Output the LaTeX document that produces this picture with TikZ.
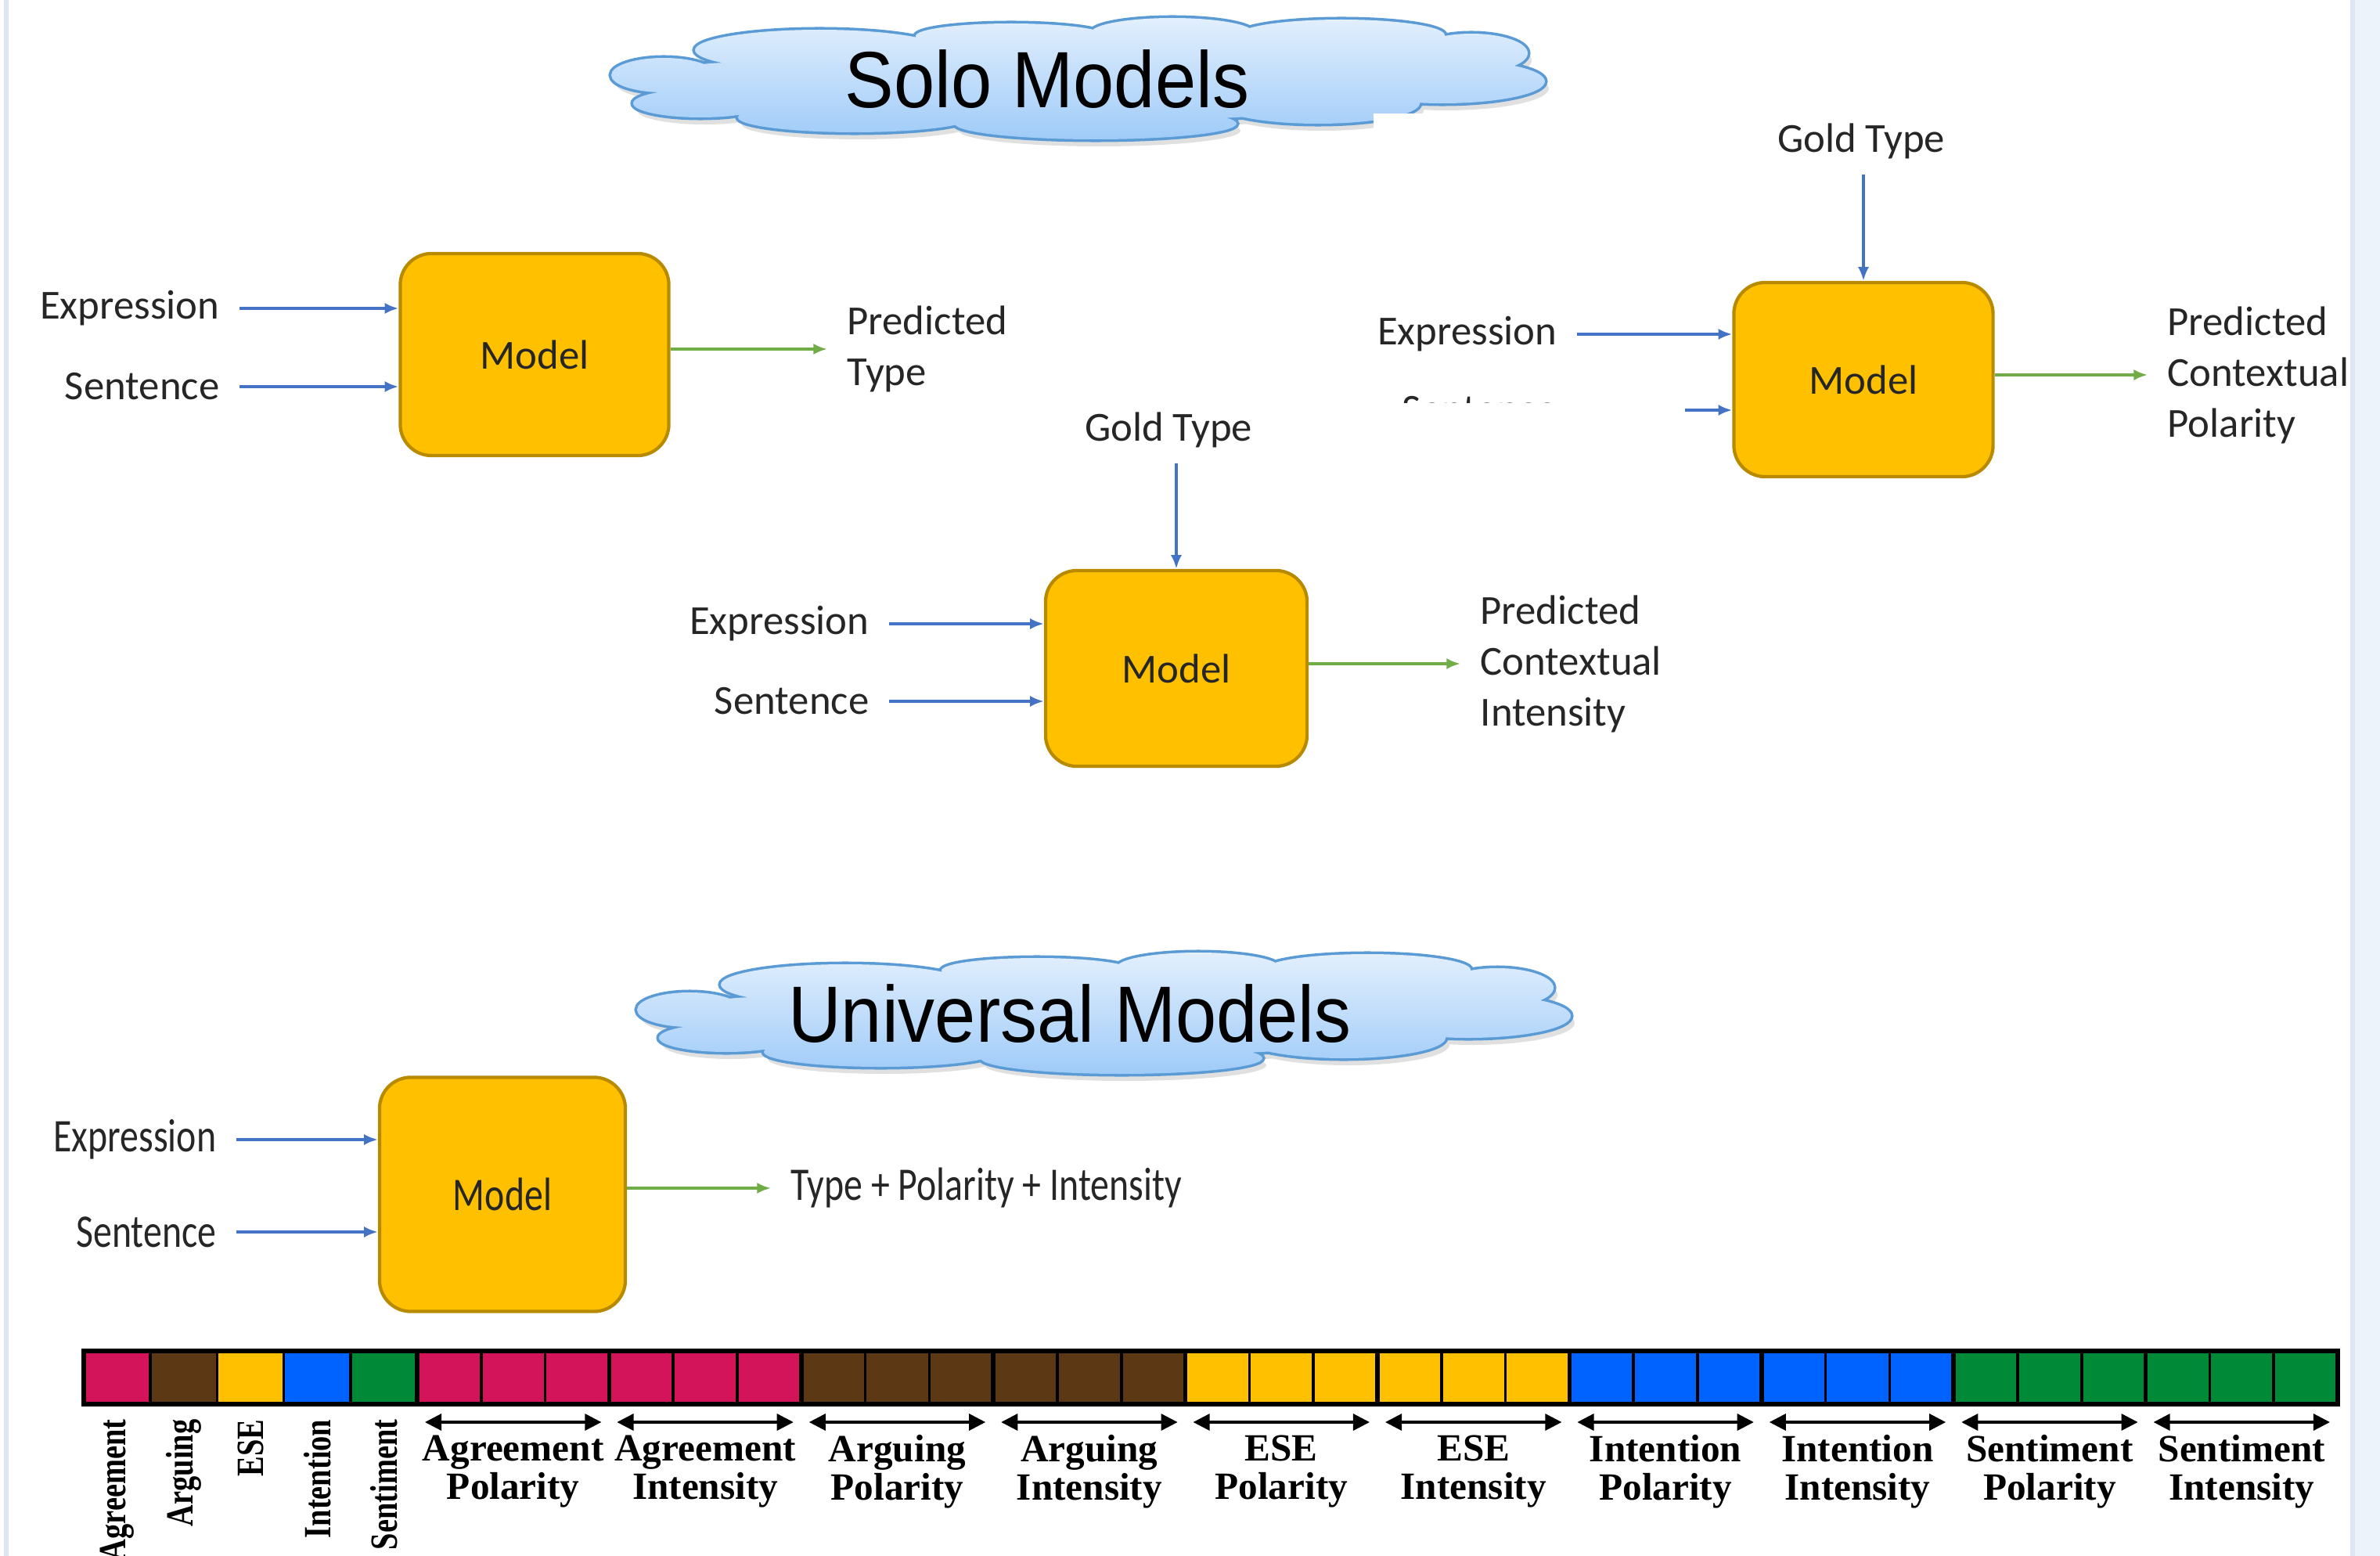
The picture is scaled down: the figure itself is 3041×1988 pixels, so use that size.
\documentclass[tikz,border=0pt]{standalone}
\usepackage{fontspec}
\setmainfont{Carlito}
\newfontfamily\cloudfont{Liberation Sans}
\newfontfamily\barfont{Liberation Serif}
\usetikzlibrary{arrows.meta}

\definecolor{modelfill}{HTML}{FFC000}
\definecolor{modelline}{HTML}{B88A00}
\definecolor{inblue}{HTML}{4472C4}
\definecolor{outgreen}{HTML}{70AD47}
\definecolor{cloudtop}{HTML}{E2EFFD}
\definecolor{cloudbot}{HTML}{9FCBF8}
\definecolor{cloudline}{HTML}{5B9BD5}
\definecolor{textgray}{HTML}{262626}
\definecolor{edgeblue}{HTML}{DCE6F5}
\definecolor{barmag}{HTML}{D4145A}
\definecolor{barbrown}{HTML}{5C3914}
\definecolor{baryel}{HTML}{FFC000}
\definecolor{barblue}{HTML}{0062FF}
\definecolor{bargreen}{HTML}{008936}

\newcommand{\cloudlobes}{%
  (848,96) ellipse [x radius=67, y radius=22]
  (895,132) ellipse [x radius=86, y radius=18]
  (1092,150) ellipse [x radius=149, y radius=19]
  (1400,158) ellipse [x radius=180, y radius=20]
  (1684,132) ellipse [x radius=130, y radius=26]
  (1843,104) ellipse [x radius=131, y radius=28]
  (1880,68) ellipse [x radius=72, y radius=25]
  (1714,45) ellipse [x radius=132, y radius=20]
  (1498,42) ellipse [x radius=104, y radius=19]
  (1292,46) ellipse [x radius=122, y radius=16]
  (1047,64) ellipse [x radius=159, y radius=26]
  (1378,100) ellipse [x radius=480, y radius=55]
  (1790,82) ellipse [x radius=100, y radius=30]
  (935,108) ellipse [x radius=100, y radius=28]
  (990,128) ellipse [x radius=90, y radius=22]}

\tikzset{
  model/.style={draw=modelline, fill=modelfill, line width=1.2pt, rounded corners=0.4cm,
    font=\fontsize{15}{18}\selectfont, text=textgray},
  lbl/.style={font=\fontsize{15}{18.5}\selectfont, inner sep=0pt, text=textgray, align=left},
  inarrow/.style={draw=inblue, line width=1pt, -{Latex[length=5pt,width=4pt]}, shorten <=0.25cm},
  outarrow/.style={draw=outgreen, line width=1pt, -{Latex[length=5pt,width=4pt]}, shorten >=0.25cm},
  cloudshadow/.style={fill=black, opacity=0.12},
  cloudrim/.style={draw=cloudline, line width=2pt},
  cloudbody/.style={top color=cloudtop, bottom color=cloudbot},
  title/.style={font=\cloudfont\fontsize{29}{30}\selectfont, xscale=0.92, inner sep=0pt},
  cell/.style={draw=black, line width=1pt},
  span/.style={draw=black, line width=0.9pt, {Triangle[length=6pt,width=6pt]}-{Triangle[length=6pt,width=6pt]}},
  barlbl/.style={font=\barfont\bfseries\fontsize{14}{14}\selectfont, inner sep=0pt, align=center}
}

\begin{document}
\begin{tikzpicture}[x=0.01cm, y=-0.01cm]
  \useasboundingbox (0,0) rectangle (3041,1988);
  \fill[white] (0,0) rectangle (3041,1988);
  \fill[edgeblue!50] (3006,0) rectangle (3041,1988);
  \draw[edgeblue, line width=1.5pt] (3006,0) -- (3006,1988);
  \draw[edgeblue, line width=1.5pt] (8,0) -- (8,1988);

  % solo: type
  \node[model, minimum width=3.43cm, minimum height=2.58cm] (modelA) at (683,453) {Model};
  \node[lbl, anchor=east] (exprA) at (281,394) {Expression};
  \node[lbl, anchor=east] (sentA) at (281,494) {Sentence};
  \node[lbl, anchor=west] (predA) at (1082,446) {Predicted\\Type};
  \draw[inarrow] (exprA.east) -- (modelA.west |- exprA.east);
  \draw[inarrow] (sentA.east) -- (modelA.west |- sentA.east);
  \draw[outarrow] (modelA.east |- predA.west) -- (predA.west);

  \fill[cloudshadow, shift={(5,9)}] \cloudlobes;
  \draw[cloudrim] \cloudlobes;
  \shade[cloudbody] \cloudlobes;
  \node[title] (soloTitle) at (1338,101) {Solo Models};

  % solo: polarity
  \fill[white] (1755,145) rectangle (3000,615);
  \node[model, minimum width=3.31cm, minimum height=2.48cm] (modelB) at (2381,485) {Model};
  \node[lbl] (goldB) at (2378,180) {Gold Type};
  \node[lbl, anchor=east] (exprB) at (1990,427) {Expression};
  \node[lbl, anchor=east] (sentB) at (1990,524) {Sentence};
  \node[lbl, anchor=west] (predB) at (2769,479) {Predicted\\Contextual\\Polarity};
  \draw[inarrow, shorten <=0.2cm] (goldB.south -| modelB.north) -- (modelB.north);
  \draw[inarrow] (exprB.east) -- (modelB.west |- exprB.east);
  \draw[inarrow] (sentB.east) -- (modelB.west |- sentB.east);
  \draw[outarrow] (modelB.east |- predB.west) -- (predB.west);

  % solo: intensity
  \fill[white] (1760,515) rectangle (2153,1000);
  \node[model, minimum width=3.34cm, minimum height=2.5cm] (modelC) at (1503,854) {Model};
  \node[lbl] (goldC) at (1493,549) {Gold Type};
  \node[lbl, anchor=east] (exprC) at (1111,797) {Expression};
  \node[lbl, anchor=east] (sentC) at (1111,896) {Sentence};
  \node[lbl, anchor=west] (predC) at (1891,848) {Predicted\\Contextual\\Intensity};
  \draw[inarrow, shorten <=0.2cm] (goldC.south -| modelC.north) -- (modelC.north);
  \draw[inarrow] (exprC.east) -- (modelC.west |- exprC.east);
  \draw[inarrow] (sentC.east) -- (modelC.west |- sentC.east);
  \draw[outarrow] (modelC.east |- predC.west) -- (predC.west);

  % universal
  \begin{scope}[shift={(33,1194)}]
    \fill[cloudshadow, shift={(5,9)}] \cloudlobes;
    \draw[cloudrim] \cloudlobes;
    \shade[cloudbody] \cloudlobes;
  \end{scope}
  \node[title] (uniTitle) at (1367,1295) {Universal Models};

  \node[model, minimum width=3.14cm, minimum height=2.99cm, font=\fontsize{17}{20}\selectfont] (modelD) at (642,1526) {\scalebox{0.8}[1]{Model}};
  \node[lbl, anchor=east, font=\fontsize{17}{20}\selectfont] (exprD) at (277,1456) {\scalebox{0.8}[1]{Expression}};
  \node[lbl, anchor=east, font=\fontsize{17}{20}\selectfont] (sentD) at (277,1574) {\scalebox{0.8}[1]{Sentence}};
  \node[lbl, anchor=west, font=\fontsize{17}{20}\selectfont] (outD) at (1010,1518) {\scalebox{0.8}[1]{Type + Polarity + Intensity}};
  \draw[inarrow] (exprD.east) -- (modelD.west |- exprD.east);
  \draw[inarrow] (sentD.east) -- (modelD.west |- sentD.east);
  \draw[outarrow] (modelD.east |- outD.west) -- (outD.west);

  % label vector
  \foreach \i/\c/\t in {0/barmag/Agreement, 1/barbrown/Arguing, 2/baryel/ESE, 3/barblue/Intention, 4/bargreen/Sentiment}{
    \draw[cell, fill=\c] ({107+85.2*\i},1726) rectangle +(85.2,68);
    \node[barlbl, rotate=90, anchor=east] (single\i) at ({107+85.2*(\i+0.5)},1813) {\scalebox{0.78}[1]{\t}};
  }
  \foreach \g/\c/\ta/\tb in {0/barmag/Agreement/Polarity, 1/barmag/Agreement/Intensity,
      2/barbrown/Arguing/Polarity, 3/barbrown/Arguing/Intensity,
      4/baryel/ESE/Polarity, 5/baryel/ESE/Intensity,
      6/barblue/Intention/Polarity, 7/barblue/Intention/Intensity,
      8/bargreen/Sentiment/Polarity, 9/bargreen/Sentiment/Intensity}{
    \foreach \k in {0,1,2}
      \draw[cell, fill=\c] ({533+245.4*\g+81.8*\k},1726) rectangle +(81.8,68);
    \draw[span] ({533+245.4*\g+10},1817) -- ({533+245.4*(\g+1)-10},1817);
    \node[barlbl] (group\g) at ({533+245.4*(\g+0.5)},1880) {\ta\\\tb};
  }
  \foreach \g in {0,...,9}
    \draw[line width=1.6pt] ({533+245.4*\g},1726) -- +(0,68);
  \draw[line width=1.8pt] (107,1726) rectangle (2987,1794);
\end{tikzpicture}
\end{document}
